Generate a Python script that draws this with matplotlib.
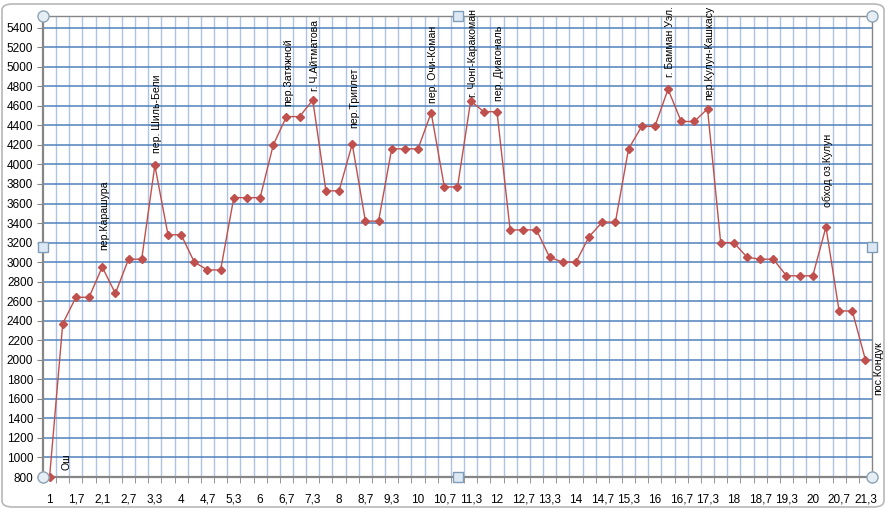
import matplotlib
matplotlib.use("Agg")
import matplotlib.pyplot as plt
from matplotlib.patches import FancyBboxPatch
import numpy as np

plt.rcParams['font.family'] = ['Liberation Sans', 'DejaVu Sans']

# Elevation profile (m), one value per category
heights = [800, 2370, 2640, 2640, 2950, 2680, 3030, 3030, 3990, 3280,
           3280, 3000, 2920, 2920, 3660, 3660, 3660, 4200, 4490, 4490,
           4660, 3730, 3730, 4210, 3420, 3420, 4160, 4160, 4160, 4530,
           3770, 3770, 4650, 4540, 4540, 3330, 3330, 3330, 3050, 3000,
           3000, 3260, 3410, 3410, 4160, 4390, 4390, 4770, 4440, 4440,
           4570, 3200, 3200, 3050, 3030, 3030, 2860, 2860, 2860, 3360,
           2500, 2500, 2000]

# Category axis labels (shown on every second category)
tick_labels = ["1", "1,7", "2,1", "2,7", "3,3", "4", "4,7", "5,3", "6", "6,7",
               "7,3", "8", "8,7", "9,3", "10", "10,7", "11,3", "12", "12,7",
               "13,3", "14", "14,7", "15,3", "16", "16,7", "17,3", "18",
               "18,7", "19,3", "20", "20,7", "21,3"]

# Point annotations: (category index, text)
above_labels = [(4, "пер.Карашура"), (8, "пер. Шиль-Бели"), (18, "пер.Затяжной"),
                (20, "г. Ч.Айтматова"), (23, "пер.Триплет"), (29, "пер. Очи-Коман"),
                (32, "г. Чонг-Каракоман"), (34, "пер. Диагональ"),
                (47, "г. Бамман Уэл."), (50, "пер.Кулун-Кашкасу"),
                (59, "обход оз.Кулун")]
right_labels = [(0, "Ош"), (62, "пос.Кондук")]

# label gaps above the points (pixels), style only
label_gaps = [17, 12, 11, 9, 16, 10, 4, 11, 12, 9, 20]

W, H = 886, 509
fig = plt.figure(figsize=(W / 100, H / 100), dpi=100)

# outer chart frame
frame = FancyBboxPatch((2 / W, 2 / H), 1 - 4 / W, 1 - 6 / H,
                       boxstyle="round,pad=0,rounding_size=0.012",
                       transform=fig.transFigure, facecolor="white",
                       edgecolor="#B8B8B8", linewidth=1.2, zorder=-10)
fig.patches.append(frame)

left, right, top, bottom = 43, 872, 16.5, 477
ax = fig.add_axes([left / W, 1 - bottom / H, (right - left) / W, (bottom - top) / H])
ax.set_facecolor("white")

n = len(heights)
x = np.arange(n)
ax.set_xlim(-0.5, n - 0.5)
ax.set_ylim(800, 5515)

# gridlines
for b in np.arange(0.5, n - 0.5, 1.0):
    ax.axvline(b, color="#AFC4E3", lw=1.0, zorder=1)
for yv in range(1000, 5600, 200):
    ax.axhline(yv, color="#4F81BD", lw=1.1, zorder=1)

ax.plot(x, heights, color="#C0504D", lw=1.0, marker="D", markersize=4.2,
        markerfacecolor="#C0504D", markeredgecolor="#C0504D", zorder=3,
        clip_on=False)

# axes ticks
ax.set_yticks(range(800, 5600, 200))
ax.tick_params(axis="y", labelsize=8.5, length=4, color="#868686", pad=3)
ax.set_xticks(x[::2])
ax.set_xticklabels(tick_labels, fontsize=8.5)
ax.set_xticks(np.arange(-0.5, n, 1.0), minor=True)
ax.tick_params(axis="x", which="major", length=0, pad=12)
ax.tick_params(axis="x", which="minor", length=4, color="#868686")

for s in ax.spines.values():
    s.set_color("#868686")
    s.set_linewidth(1.0)
ax.spines["left"].set_linewidth(1.6)
ax.spines["bottom"].set_linewidth(1.6)

# data labels (offsets in points: px * 0.72 at 100 dpi)
for (i, t), g in zip(above_labels, label_gaps):
    ax.annotate(t, (i, heights[i]), xytext=(1.5, g * 0.72), textcoords="offset points",
                rotation=90, ha="center", va="bottom", fontsize=7.6, zorder=4,
                annotation_clip=False)
for i, t in right_labels:
    dx, dy = (12, 11) if i == 0 else (9, -6)
    ax.annotate(t, (i, heights[i]), xytext=(dx, dy), textcoords="offset points",
                rotation=90, ha="center", va="center", fontsize=7.6, zorder=4,
                annotation_clip=False)

# selection handles of the plot area
tr = ax.transAxes
for cx, cy in [(0, 0), (1, 0), (0, 1), (1, 1)]:
    ax.plot(cx, cy, marker="o", markersize=8, markerfacecolor="#E4EEF4",
            markeredgecolor="#8EA3B5", transform=tr, clip_on=False, zorder=6)
for cx, cy in [(0.5, 0), (0.5, 1), (0, 0.5), (1, 0.5)]:
    ax.plot(cx, cy, marker="s", markersize=7, markerfacecolor="#DCE9F4",
            markeredgecolor="#7F9DB9", transform=tr, clip_on=False, zorder=6)

fig.savefig("out.png", dpi=100)
